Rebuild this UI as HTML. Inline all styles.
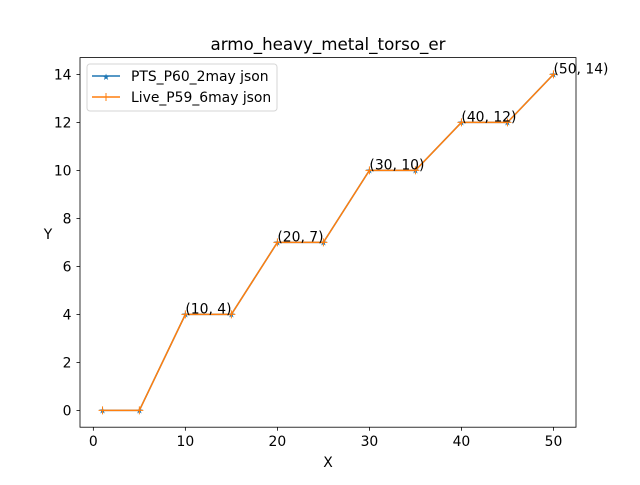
<!DOCTYPE html>
<html><head><meta charset="utf-8"><style>
body{margin:0;background:#fff}
svg text{font-family:"DejaVu Sans","Liberation Sans",sans-serif;fill:#000}
</style></head><body>
<svg id="chart" width="640" height="480" xmlns="http://www.w3.org/2000/svg">
<rect width="640" height="480" fill="#fff"/>
<text x="328" y="50" font-size="16.7" text-anchor="middle">armo_heavy_metal_torso_er</text>
<g id="plot"></g>
<rect x="80" y="57.6" width="496" height="369.6" fill="none" stroke="#000" stroke-width="0.8"/>
<text x="328" y="467" font-size="13.9" text-anchor="middle">X</text>
<text x="48" y="239" font-size="13.9" text-anchor="middle">Y</text>
<g>
<rect x="87" y="64" width="190" height="47" rx="3" fill="#fff" stroke="#ccc" stroke-width="1" opacity="0.8"/>
<line x1="92" y1="76" x2="120" y2="76" stroke="#1f77b4" stroke-width="1.5"/>
<text x="106" y="80" font-size="9" text-anchor="middle" style="fill:#1f77b4">★</text>
<text x="131" y="81" font-size="13.9">PTS_P60_2may json</text>
<line x1="92" y1="97" x2="120" y2="97" stroke="#ff7f0e" stroke-width="1.5"/>
<path d="M106 93v8M102 97h8" stroke="#ff7f0e" stroke-width="1"/>
<text x="131" y="102" font-size="13.9">Live_P59_6may json</text>
</g>
</svg>
<script>
const xs=[1,5,10,15,20,25,30,35,40,45,50];
const ys1=[0,0,4,4,7,7,10,10,12,12,14];
const ys2=[0,0,4,4,7,7,10,10,12,12,14];
const xTicks=[0,10,20,30,40,50];
const yTicks=[0,2,4,6,8,10,12,14];
const annX=[10,20,30,40,50];
const annY=[4,7,10,12,14];
const X=v=>80+(v+1.45)/53.9*496;
const Y=v=>427.2-(v+0.7)/15.4*369.6;
const NS="http://www.w3.org/2000/svg";
const g=document.getElementById('plot');
function mk(t,a){const e=document.createElementNS(NS,t);for(const k in a)e.setAttribute(k,a[k]);g.appendChild(e);return e;}
xTicks.forEach(t=>{
 const l=mk('line',{x1:X(t),x2:X(t),y1:427.2,y2:430.7,stroke:'#000','stroke-width':0.8});
 
 
 const tx=mk('text',{x:X(t),y:446,'font-size':13.9,'text-anchor':'middle'});tx.textContent=t;
 
 
});
yTicks.forEach(t=>{
 const l=mk('line',{x1:76.5,x2:80,y1:Y(t),y2:Y(t),stroke:'#000','stroke-width':0.8});
 
 
 const tx=mk('text',{x:71.5,y:Y(t)+5,'font-size':13.9,'text-anchor':'end'});tx.textContent=t;
 
 
});
function series(ys,color,name,star){
 const p=mk('polyline',{points:xs.map((x,i)=>X(x)+','+Y(ys[i])).join(' '),fill:'none',stroke:color,'stroke-width':1.5});
 
 
 xs.forEach((x,i)=>{
  let m;
  if(star){m=mk('text',{x:X(x),y:Y(ys[i])+3,'font-size':9,'text-anchor':'middle',style:'fill:'+color});m.textContent='★';}
  else{m=mk('path',{d:`M${X(x)} ${Y(ys[i])-4}v8M${X(x)-4} ${Y(ys[i])}h8`,stroke:color,'stroke-width':1});}
  
  
 });
}
series(ys1,'#1f77b4','pts-series',true);
series(ys2,'#ff7f0e','live-series',false);
annX.forEach((x,i)=>{
 const t=mk('text',{x:X(x),y:Y(annY[i])-1,'font-size':13.9});t.textContent=`(${x}, ${annY[i]})`;
 
 
});
</script>
</body></html>
